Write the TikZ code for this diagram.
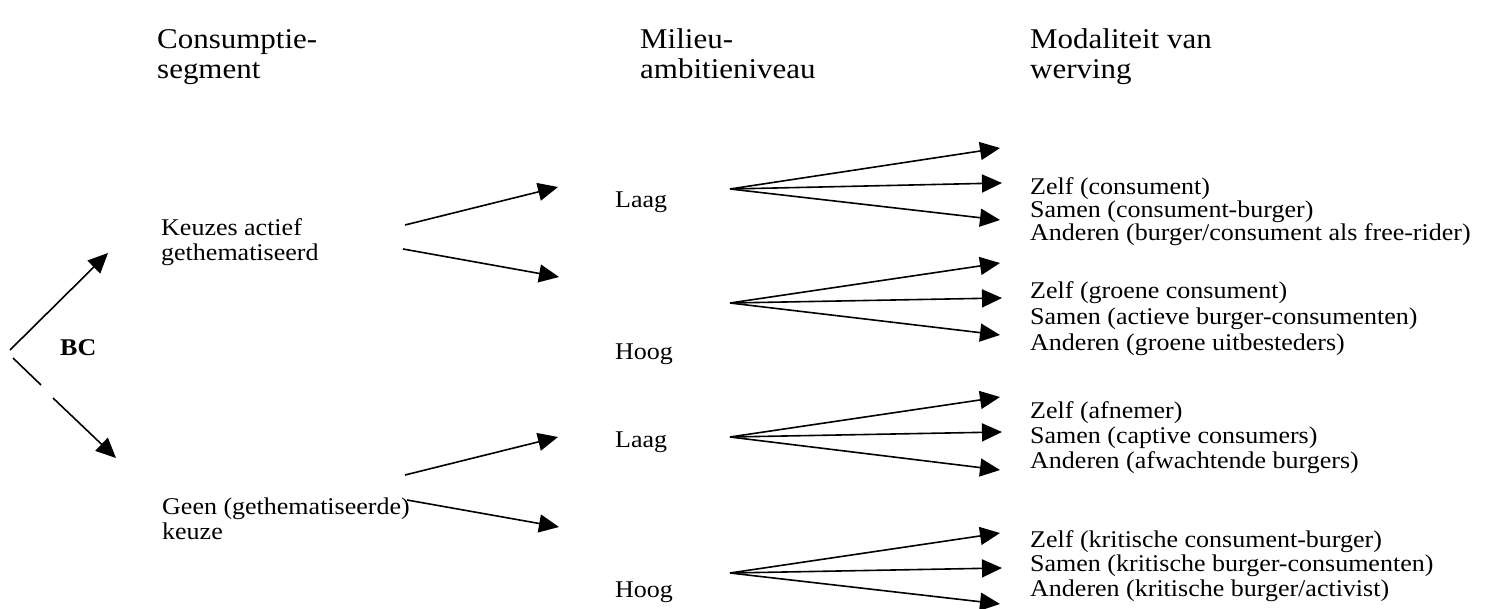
\documentclass[tikz,border=0pt]{standalone}
\usepackage{fontspec}
\setmainfont[FakeStretch=1.083]{Liberation Serif}
\usetikzlibrary{arrows.meta}
\tikzset{
  txt/.style={anchor=base west, inner sep=0pt, font=\fontsize{24}{24.5}\selectfont},
  head/.style={anchor=base west, inner sep=0pt, font=\fontsize{28.6}{30}\selectfont},
  bold/.style={anchor=base west, inner sep=0pt, font=\fontsize{24}{24.5}\selectfont\bfseries},
  ln/.style={line width=1.6pt},
  arr/.style={line width=1.6pt, -{Triangle[length=20pt,width=18pt]}}
}
\begin{document}
\begin{tikzpicture}[x=1pt,y=-1pt]
\useasboundingbox (0,0) rectangle (1494,609);
% headings
\node[head] (h1a) at (157,49) {Consumptie-};
\node[head] (h1b) at (157,79) {segment};
\node[head] (h2a) at (640,49) {Milieu-};
\node[head] (h2b) at (640,79) {ambitieniveau};
\node[head] (h3a) at (1030,49) {Modaliteit van};
\node[head] (h3b) at (1030,79) {werving};
% left column
\node[bold] (bc) at (60,356) {BC};
\node[txt] (k1) at (161,236) {Keuzes actief};
\node[txt] (k2) at (161,261) {gethematiseerd};
\node[txt] (g1) at (162,514) {Geen (gethematiseerde)};
\node[txt] (g2) at (162,539) {keuze};
% middle column
\node[txt] (l1) at (615,208) {Laag};
\node[txt] (o1) at (615,360) {Hoog};
\node[txt] (l2) at (615,447) {Laag};
\node[txt] (o2) at (615,597) {Hoog};
% right column
\node[txt] (a1) at (1030,195) {Zelf (consument)};
\node[txt] (a2) at (1030,218) {Samen (consument-burger)};
\node[txt] (a3) at (1030,241) {Anderen (burger/consument als free-rider)};
\node[txt] (b1) at (1030,299) {Zelf (groene consument)};
\node[txt] (b2) at (1030,325) {Samen (actieve burger-consumenten)};
\node[txt] (b3) at (1030,351) {Anderen (groene uitbesteders)};
\node[txt] (c1) at (1030,418) {Zelf (afnemer)};
\node[txt] (c2) at (1030,443) {Samen (captive consumers)};
\node[txt] (c3) at (1030,468) {Anderen (afwachtende burgers)};
\node[txt] (d1) at (1030,547) {Zelf (kritische consument-burger)};
\node[txt] (d2) at (1030,571.5) {Samen (kritische burger-consumenten)};
\node[txt] (d3) at (1030,596) {Anderen (kritische burger/activist)};
% BC arrows
\coordinate (bcu) at (10,350);
\coordinate (bcut) at (108,253);
\coordinate (bcl) at (13,358);
\coordinate (bclg1) at (41,385);
\coordinate (bclg2) at (53,398);
\coordinate (bclt) at (116,458);
\draw[arr] (bcu) -- (bcut);
\draw[ln] (bcl) -- (bclg1);
\draw[arr] (bclg2) -- (bclt);
% middle arrows
\coordinate (m1s) at (405,225); \coordinate (m1t) at (558,187);
\coordinate (m2s) at (403,249); \coordinate (m2t) at (559,277);
\coordinate (m3s) at (405,475); \coordinate (m3t) at (558,437);
\coordinate (m4s) at (407,500); \coordinate (m4t) at (559,527);
\draw[arr] (m1s) -- (m1t);
\draw[arr] (m2s) -- (m2t);
\draw[arr] (m3s) -- (m3t);
\draw[arr] (m4s) -- (m4t);
% fans
\coordinate (f1) at (730,189);
\coordinate (f1a) at (1000,148); \coordinate (f1b) at (1002,183); \coordinate (f1c) at (1000,220);
\coordinate (f2) at (730,303);
\coordinate (f2a) at (1000,263); \coordinate (f2b) at (1002,298); \coordinate (f2c) at (1000,335);
\coordinate (f3) at (730,437);
\coordinate (f3a) at (1000,397); \coordinate (f3b) at (1002,432); \coordinate (f3c) at (1000,470);
\coordinate (f4) at (730,573);
\coordinate (f4a) at (1000,533); \coordinate (f4b) at (1002,568); \coordinate (f4c) at (1000,604);
\foreach \g in {1,2,3,4}{
  \draw[arr] (f\g) -- (f\g a);
  \draw[arr] (f\g) -- (f\g b);
  \draw[arr] (f\g) -- (f\g c);
}
\end{tikzpicture}
\end{document}
